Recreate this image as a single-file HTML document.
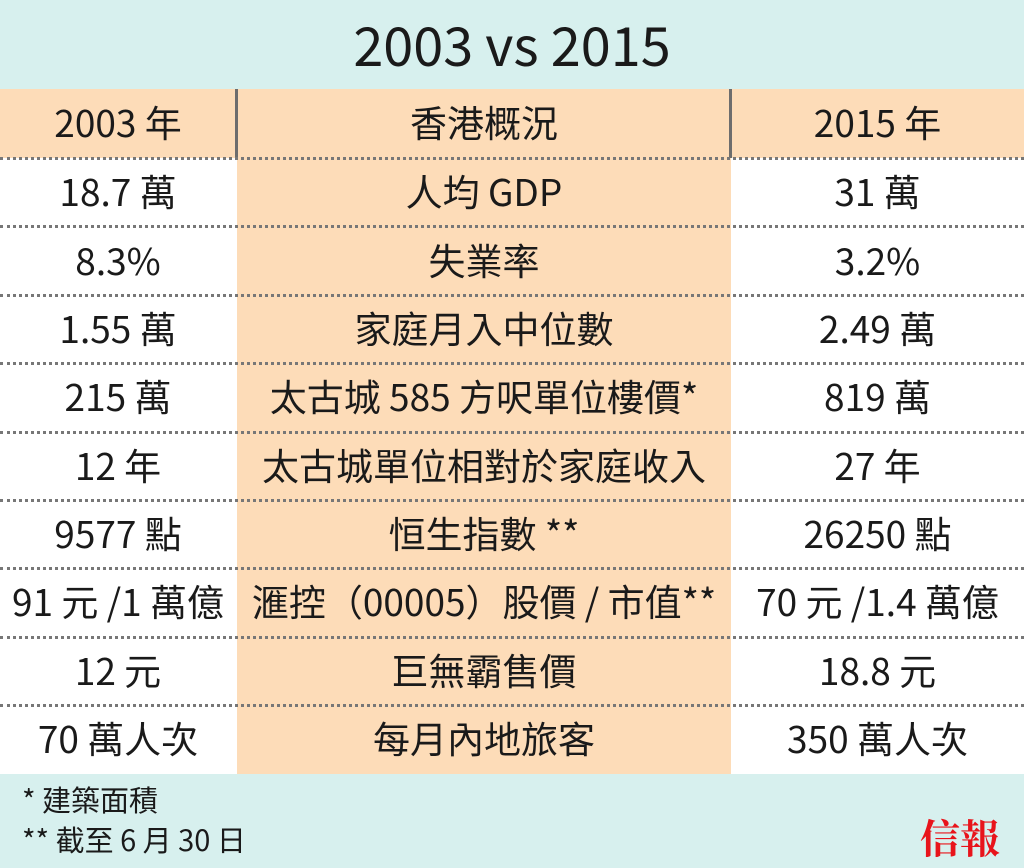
<!DOCTYPE html>
<html><head><meta charset="utf-8"><style>
body{margin:0;width:1024px;height:868px;overflow:hidden;background:#fff;font-family:"Noto Sans CJK TC",sans-serif;color:#1a1a1a;position:relative}
.a{position:absolute}
.title{left:0;top:0;width:1024px;height:89px;background:#d7f0ee;text-align:center;font-size:54px;line-height:86px}
.hdr{left:0;top:89px;width:1024px;height:69px;background:#fddcb8}
.mid{left:237px;top:158px;width:494px;height:616px;background:#fddcb8}
.vl{top:89px;width:3px;height:69px;background:#6d6d6d}
.dot{left:0;width:1024px;height:0;border-top:3px dotted #777}
.c{position:absolute;text-align:center;font-size:37px;height:68px;line-height:62px;white-space:nowrap}
.foot{left:0;top:774px;width:1024px;height:94px;background:#d7f0ee}
.ft{left:22px;font-size:29px}
</style></head><body>
<div class="a title">2003 vs 2015</div>
<div class="a hdr"></div>
<div class="a mid"></div>
<div class="a vl" style="left:235px"></div>
<div class="a vl" style="left:729px"></div>
<div class="a foot"></div>
<div class="c" style="left:0;width:236px;top:90px">2003 年</div>
<div class="c" style="left:237px;width:494px;top:90px">香港概況</div>
<div class="c" style="left:731px;width:293px;top:90px">2015 年</div>
<div class="a dot" style="top:157px"></div>
<div class="a dot" style="top:225px"></div>
<div class="a dot" style="top:294px"></div>
<div class="a dot" style="top:362px"></div>
<div class="a dot" style="top:431px"></div>
<div class="a dot" style="top:499px"></div>
<div class="a dot" style="top:567px"></div>
<div class="a dot" style="top:636px"></div>
<div class="a dot" style="top:704px"></div>

<div class="c" style="left:0;width:236px;top:159px">18.7 萬</div>
<div class="c" style="left:237px;width:494px;top:159px">人均 GDP</div>
<div class="c" style="left:731px;width:293px;top:159px">31 萬</div>

<div class="c" style="left:0;width:236px;top:228px">8.3%</div>
<div class="c" style="left:237px;width:494px;top:228px">失業率</div>
<div class="c" style="left:731px;width:293px;top:228px">3.2%</div>

<div class="c" style="left:0;width:236px;top:296px">1.55 萬</div>
<div class="c" style="left:237px;width:494px;top:296px">家庭月入中位數</div>
<div class="c" style="left:731px;width:293px;top:296px">2.49 萬</div>

<div class="c" style="left:0;width:236px;top:364px">215 萬</div>
<div class="c" style="left:237px;width:494px;top:364px">太古城 585 方呎單位樓價*</div>
<div class="c" style="left:731px;width:293px;top:364px">819 萬</div>

<div class="c" style="left:0;width:236px;top:433px">12 年</div>
<div class="c" style="left:237px;width:494px;top:433px">太古城單位相對於家庭收入</div>
<div class="c" style="left:731px;width:293px;top:433px">27 年</div>

<div class="c" style="left:0;width:236px;top:501px">9577 點</div>
<div class="c" style="left:237px;width:494px;top:501px">恒生指數 **</div>
<div class="c" style="left:731px;width:293px;top:501px">26250 點</div>

<div class="c" style="left:0;width:236px;top:569px">91 元 /1 萬億</div>
<div class="c" style="left:237px;width:494px;top:569px">滙控（00005）股價 / 市值**</div>
<div class="c" style="left:731px;width:293px;top:569px">70 元 /1.4 萬億</div>

<div class="c" style="left:0;width:236px;top:638px">12 元</div>
<div class="c" style="left:237px;width:494px;top:638px">巨無霸售價</div>
<div class="c" style="left:731px;width:293px;top:638px">18.8 元</div>

<div class="c" style="left:0;width:236px;top:706px">70 萬人次</div>
<div class="c" style="left:237px;width:494px;top:706px">每月內地旅客</div>
<div class="c" style="left:731px;width:293px;top:706px">350 萬人次</div>

<div class="a ft" style="top:778px">* 建築面積</div>
<div class="a ft" style="top:818px">** 截至 6 月 30 日</div>
<div class="a" style="left:920px;top:808px;font-size:40px;color:#e8141b;font-weight:bold;font-family:'Noto Serif CJK SC',serif">信報</div>
</body></html>
